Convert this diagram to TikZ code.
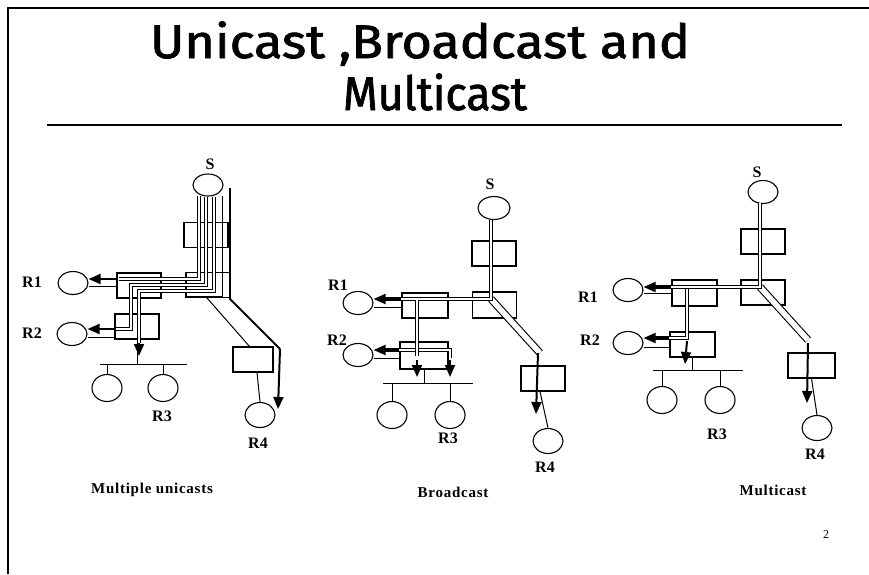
\documentclass[tikz,border=0pt]{standalone}
\usepackage{fontspec}
\setmainfont{Liberation Serif}
\newfontfamily\titlefont[FakeBold=1.6]{Fira Sans}
\newfontfamily\capfont[LetterSpace=5]{Liberation Serif}
\usetikzlibrary{shapes.geometric,arrows.meta}
\tikzset{
 host/.style={draw, ellipse, line width=1.1pt, minimum width=30pt, minimum height=23pt, inner sep=0pt},
 lanhost/.style={host, minimum height=27pt},
 rtr/.style={draw, rectangle, line width=1.1pt, minimum width=44pt, minimum height=25pt, inner sep=0pt},
 lbl/.style={font=\bfseries\fontsize{16}{18}\selectfont, inner sep=0pt},
 captxt/.style={font=\capfont\bfseries\fontsize{15}{18}\selectfont, inner sep=0pt},
 tube/.style={draw=black, double=white, line width=1.1pt, double distance=2.6pt},
 wtube/.style={tube, double distance=5.5pt},
 flow/.style={line width=2pt, -{Triangle[length=12pt,width=10pt]}},
 link/.style={line width=1pt},
 frameline/.style={line width=1.8pt},
}
\begin{document}
\begin{tikzpicture}[x=1pt,y=-1pt]
\useasboundingbox (0,0) rectangle (869,574);
% frame and title
\coordinate (fa) at (8,574); \coordinate (fb) at (8,8); \coordinate (fc) at (869,8);
\draw[frameline] (fa) -- (fb) -- (fc);
\coordinate (ra) at (47,125); \coordinate (rb) at (842,125);
\draw[line width=1.4pt] (ra) -- (rb);
\node[anchor=base, inner sep=0pt, font=\titlefont\fontsize{47}{52}\selectfont] (t1) at (420,58) {\resizebox{540pt}{\height}{Unicast ,Broadcast and}};
\node[anchor=base, inner sep=0pt, font=\titlefont\fontsize{47}{52}\selectfont] (t2) at (435,110) {\resizebox{184pt}{\height}{Multicast}};

% ================= Panel 1: multiple unicasts
\node[rtr] (tA) at (206,235) {};
\node[rtr] (jA) at (208,285) {};
\node[rtr] (lA) at (139,285.5) {};
\node[rtr] (mA) at (137,326.5) {};
\node[rtr, minimum width=40pt] (qA) at (253,359.5) {};
\node[host, minimum height=22pt] (sA) at (208,185) {};
\node[lbl] (sAl) at (210,164) {S};
\node[host] (r1A) at (73,283) {};
\node[host] (r2A) at (72,334) {};
\node[lbl] (r1Al) at (32,282) {R1};
\node[lbl] (r2Al) at (32,333) {R2};
\coordinate (bAl) at (100,364); \coordinate (bAr) at (187,364);
\draw[link] (bAl) -- (bAr);
\node[lanhost] (h1A) at (107,388) {};
\node[lanhost] (h2A) at (163,388) {};
\draw[link] (h1A.north) -- (h1A.north |- bAl);
\draw[link] (h2A.north) -- (h2A.north |- bAl);
\draw[link] (mA.south) -- (mA.south |- bAl);
\node[lbl] (r3Al) at (162,416) {R3};
\node[host, minimum height=25pt] (r4A) at (260,415) {};
\node[lbl] (r4Al) at (258,443) {R4};
\draw[link] ([xshift=4pt]qA.south) -- (r4A.north);
\draw[link] ([yshift=-3pt]r1A.east) -- ([yshift=-3pt]lA.west |- r1A.east);
\draw[link] ([yshift=-3pt]r2A.east) -- ([yshift=-3pt]mA.west |- r2A.east);
% streams
\coordinate (a1) at (199,196); \coordinate (a2) at (199,279); \coordinate (a3) at (119,279);
\draw[tube] (a1) -- (a2) -- (a3);
\coordinate (b1) at (206,197); \coordinate (b2) at (206,285); \coordinate (b3) at (131,285); \coordinate (b4) at (131,329); \coordinate (b5) at (116,329);
\draw[tube] (b1) -- (b2) -- (b3) -- (b4) -- (b5);
\coordinate (c1) at (214,197); \coordinate (c2) at (214,291); \coordinate (c3) at (139,291); \coordinate (c4) at (139,343);
\draw[tube] (c1) -- (c2) -- (c3) -- (c4);
\coordinate (d1) at (222,196); \coordinate (d2) at (222,296); \coordinate (d3) at (186,296);
\draw[link] (d1) -- (d2) -- (d3);
\coordinate (e1) at (230,188); \coordinate (e2) at (230,299); \coordinate (e3) at (280,349); \coordinate (e4) at (278,409);
\draw[line width=1.8pt] (e1) -- (e2) -- (e3);
\draw[flow] (e3) -- (e4);
\coordinate (g1) at (207,298); \coordinate (g2) at (250,347);
\draw[link] (g1) -- (g2);
\draw[flow] (lA.west |- a3) -- (r1A.east |- a3);
\draw[flow] (mA.west |- b5) -- (r2A.east |- b5);
\coordinate (c5) at (139,356);
\draw[flow] (c4) -- (c5);

% ================= Panel 2: broadcast
\node[rtr] (tB) at (494,253.5) {};
\node[rtr, minimum height=26pt] (jB) at (494.5,305) {};
\node[rtr, minimum width=46pt] (lB) at (425,305.5) {};
\node[rtr, minimum width=48pt, minimum height=27pt] (mB) at (424,355.5) {};
\node[rtr] (qB) at (543,378.5) {};
\node[host, minimum width=32pt] (sB) at (494,208) {};
\node[lbl] (sBl) at (490,184) {S};
\node[host] (r1B) at (358,303) {};
\node[host] (r2B) at (358,355) {};
\node[lbl] (r1Bl) at (338,285) {R1};
\node[lbl] (r2Bl) at (337,340) {R2};
\coordinate (bBl) at (383,383); \coordinate (bBr) at (473,383);
\draw[link] (bBl) -- (bBr);
\node[lanhost] (h1B) at (392,415) {};
\node[lanhost] (h2B) at (450,415) {};
\draw[link] (h1B.north) -- (h1B.north |- bBl);
\draw[link] (h2B.north) -- (h2B.north |- bBl);
\draw[link] (mB.south) -- (mB.south |- bBl);
\node[lbl] (r3Bl) at (448,438) {R3};
\node[host, minimum height=25pt] (r4B) at (548,441) {};
\node[lbl] (r4Bl) at (545,467) {R4};
\draw[link] ([xshift=-3pt]qB.south) -- (r4B.north);
\draw[link] ([yshift=-4pt]r1B.east) -- ([yshift=-4pt]lB.west |- r1B.east);
\draw[link] ([yshift=-3pt]r2B.east) -- ([yshift=-3pt]mB.west |- r2B.east);
% streams
\coordinate (p1) at (491,220); \coordinate (p2) at (491,299); \coordinate (p3) at (378,299);
\coordinate (p4) at (540,353); \coordinate (p5) at (536,414);
\draw[wtube] (p2) -- (p4);
\draw[tube] (p1) -- (p2) -- (p3);
\draw[flow] ([xshift=-2pt]p4) -- (p5);
\draw[flow] (lB.west |- p3) -- (r1B.east |- p3);
\coordinate (u1) at (380,350); \coordinate (u2) at (450,350); \coordinate (u3) at (450,358);
\draw[tube] (u1) -- (u2) -- (u3);
\coordinate (v1) at (417,300); \coordinate (v2) at (417,356);
\draw[tube] (v1) -- (v2);
\coordinate (v3) at (417,377); \coordinate (u4) at (450,377);
\draw[flow] ([yshift=-4pt]v2) -- (v3);
\draw[flow] ([yshift=-2pt]u3) -- (u4);
\draw[flow] (mB.west |- u1) -- (r2B.east |- u1);

% ================= Panel 3: multicast
\node[rtr] (tC) at (763,241.5) {};
\node[rtr] (jC) at (763,292.5) {};
\node[rtr, minimum width=45pt, minimum height=26pt] (lC) at (694.5,293) {};
\node[rtr, minimum width=45pt] (mC) at (692.5,344.5) {};
\node[rtr, minimum width=47pt] (qC) at (811.5,365.5) {};
\node[host] (sC) at (763,192) {};
\node[lbl] (sCl) at (757,172) {S};
\node[host] (r1C) at (628,290) {};
\node[host] (r2C) at (628,343) {};
\node[lbl] (r1Cl) at (588,297) {R1};
\node[lbl] (r2Cl) at (590,340) {R2};
\coordinate (bCl) at (653,370); \coordinate (bCr) at (743,370);
\draw[link] (bCl) -- (bCr);
\node[lanhost] (h1C) at (662,400) {};
\node[lanhost] (h2C) at (720,400) {};
\draw[link] (h1C.north) -- (h1C.north |- bCl);
\draw[link] (h2C.north) -- (h2C.north |- bCl);
\draw[link] (mC.south) -- (mC.south |- bCl);
\node[lbl] (r3Cl) at (717,434) {R3};
\node[host, minimum height=25pt] (r4C) at (817,428) {};
\node[lbl] (r4Cl) at (815,454) {R4};
\draw[link] (qC.south) -- (r4C.north);
\draw[link] ([yshift=-3pt]r1C.east) -- ([yshift=-3pt]lC.west |- r1C.east);
\draw[link] ([yshift=-4pt]r2C.east) -- ([yshift=-4pt]mC.west |- r2C.east);
% streams
\coordinate (k1) at (760,203); \coordinate (k2) at (760,287); \coordinate (k3) at (650,287);
\coordinate (k4) at (808,340); \coordinate (k5) at (807,403);
\draw[wtube] (k2) -- (k4);
\draw[tube] (k1) -- (k2) -- (k3);
\draw[flow] ([yshift=-3pt]k4) -- (k5);
\draw[flow] (lC.west |- k3) -- (r1C.east |- k3);
\coordinate (n1) at (687,289); \coordinate (n2) at (687,338); \coordinate (n3) at (650,338);
\draw[tube] (n1) -- (n2) -- (n3);
\coordinate (n4) at (685,364);
\draw[flow] ([yshift=-3pt]n2) -- (n4);
\draw[flow] (mC.west |- n3) -- (r2C.east |- n3);

% captions
\node[captxt] (cp1) at (152,490) {Multiple unicasts};
\node[captxt] (cp2) at (453,492) {Broadcast};
\node[captxt] (cp3) at (773,490) {Multicast};
\node[font=\fontsize{12}{14}\selectfont, inner sep=0pt] (pg) at (826,535) {2};
\end{tikzpicture}
\end{document}
